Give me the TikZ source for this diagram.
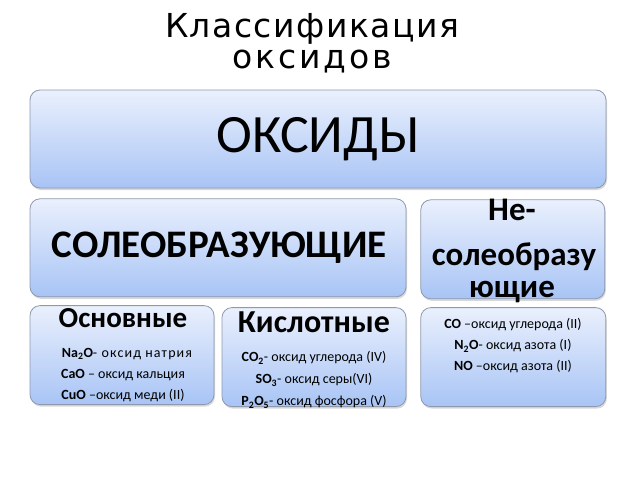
\documentclass[tikz,border=0pt]{standalone}
\usepackage{fontspec}
\setmainfont{Carlito}
\newfontfamily\titlefont[LetterSpace=4.5]{DejaVu Sans}
\usetikzlibrary{positioning,shadows}
\definecolor{boxtop}{HTML}{EAF0FD}
\definecolor{boxbottom}{HTML}{A8C4F5}
\definecolor{boxline}{HTML}{8E99AE}
\tikzset{
  box/.style={draw=boxline, line width=0.8pt, rounded corners=10pt,
    top color=boxtop, bottom color=boxbottom, inner sep=0pt,
    drop shadow={shadow xshift=1pt, shadow yshift=-2pt, opacity=0.3}},
  line/.style={font=\fontsize{14}{16}\selectfont, inner sep=0pt},
  nesolotext/.style={font=\bfseries\fontsize{33}{36}\selectfont, inner sep=0pt}
}

\begin{document}
\begin{tikzpicture}[x=1pt,y=-1pt]
      \useasboundingbox[fill=white] (0,0) rectangle (640,480);

      \node[align=center, font=\titlefont\fontsize{33}{31}\selectfont] (title) at (312,43) {Классификация\\\addfontfeature{LetterSpace=9}оксидов};

      \node[box, minimum width=576pt, minimum height=98pt] (oksidy) at (318,139) {};
      \node[box, minimum width=376pt, minimum height=98pt, below=10pt of oksidy.south west, anchor=north west] (solo) {};
      \node[box, minimum width=184pt, minimum height=99pt, right=14pt of solo.north east, anchor=north west, yshift=-1pt] (nesolo) {};
      \node[box, minimum width=184pt, minimum height=99pt, below=8pt of solo.south west, anchor=north west] (osnov) {};
      \node[box, minimum width=184pt, minimum height=99pt, below=10pt of solo.south east, anchor=north east] (kisl) {};
      \node[box, minimum width=185pt, minimum height=99pt, below=8pt of nesolo.south west, anchor=north west] (nesoloprim) {};

      \node[font=\fontsize{54}{60}\selectfont] at (oksidy) {ОКСИДЫ};
      \node[font=\bfseries\fontsize{39}{42}\selectfont] at (219,248) {СОЛЕОБРАЗУЮЩИЕ};
      \node[nesolotext] at (512,210) {Не-};
      \node[nesolotext] at (514,257) {солеобразу};
      \node[nesolotext] at (512,292) {ющие};

      \node[font=\bfseries\fontsize{29}{32}\selectfont] at (123,318) {Основные};
      \node[line] at (127,354) {\textbf{Na\textsubscript{2}O}\addfontfeature{LetterSpace=8}- оксид натрия};
      \node[line] at (123,375) {\textbf{CaO} – оксид кальция};
      \node[line] at (123,396) {\textbf{CuO} –оксид меди (II)};

      \node[font=\bfseries\fontsize{32}{35}\selectfont] at (314,322) {Кислотные};
      \node[line] at (314,358) {\textbf{CO\textsubscript{2}}- оксид углерода (IV)};
      \node[line] at (314,380) {\textbf{SO\textsubscript{3}}- оксид серы(VI)};
      \node[line] at (314,402) {\textbf{P\textsubscript{2}O\textsubscript{5}}- оксид фосфора (V)};

      \node[line] at (513,325) {\textbf{CO} –оксид углерода (II)};
      \node[line] at (513,346) {\textbf{N\textsubscript{2}O}- оксид азота (I)};
      \node[line] at (513,367) {\textbf{NO} –оксид азота (II)};
\end{tikzpicture}
\end{document}
